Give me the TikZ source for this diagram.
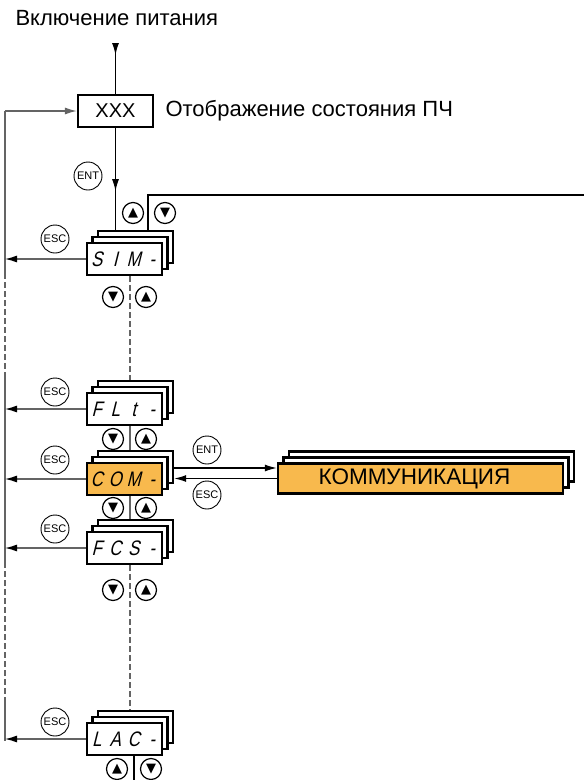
\documentclass[tikz,border=0pt]{standalone}
\usepackage{fontspec}
\setmainfont{Liberation Sans}
\newfontfamily\symfont{DejaVu Sans}
\newfontfamily\segfont{Liberation Sans}[FakeSlant=0.25, FakeStretch=0.8]
\usepackage{tikz}
\usetikzlibrary{arrows.meta, shadows, decorations.markings}
\definecolor{menuorange}{RGB}{248,185,77}
\definecolor{linegray}{RGB}{100,100,100}
% code on the 4-digit display
\newcommand{\segcode}[4]{{\segfont\fontsize{21}{21}\selectfont\makebox[18.5pt]{#1}\makebox[18.5pt]{#2}\makebox[18.5pt]{#3}\makebox[18.5pt]{#4}}}

\begin{document}
\begin{tikzpicture}[x=1pt, y=-1pt,
    every node/.style={font=\fontsize{22}{22}\selectfont},
    >={Latex[length=12pt,width=7pt]},
    stackbox/.style={draw, line width=2.4pt, fill=white, minimum width=75pt, minimum height=32pt, inner sep=0pt,
        general shadow={shadow xshift=11pt, shadow yshift=12pt, fill=white, draw=black},
        general shadow={shadow xshift=5.5pt, shadow yshift=6pt, fill=white, draw=black}},
    btn/.style={circle, draw, line width=0.9pt, minimum size=28pt, inner sep=0pt, font=\fontsize{11}{11}\selectfont},
    arrowbtn/.style={circle, draw, line width=1.2pt, minimum size=21pt, inner sep=0pt, font=\symfont\fontsize{13}{13}\selectfont},
    retline/.style={draw=linegray, line width=1.3pt},
    gapline/.style={draw=linegray, line width=1.3pt, dash pattern=on 6pt off 3pt}]
    \useasboundingbox (0,0) rectangle (584,780);

    % Power on and state display
    \node[anchor=west] (power) at (12,18) {Включение питания};
    \coordinate (pwr) at (115.5,43);
    \node[draw, line width=2.2pt, minimum width=75pt, minimum height=32pt, inner sep=0pt, font=\fontsize{20}{20}\selectfont] (xxx) at (115.5,111) {XXX};
    \node[anchor=west] (state) at (162,111) {Отображение состояния ПЧ};
    \draw[{Latex[reversed,length=12pt,width=7pt]}-, line width=1.2pt] (pwr) -- (xxx.north);

    % Menu stacks
    \node[stackbox] (sim) at (124.5,259) {\segcode{S}{I}{M}{-}};
    \node[stackbox] (flt) at (124.5,409) {\segcode{F}{L}{t}{-}};
    \node[stackbox, fill=menuorange] (com) at (124.5,479) {\segcode{C}{O}{M}{-}};
    \node[stackbox] (fcs) at (124.5,548) {\segcode{F}{C}{S}{-}};
    \node[stackbox] (lac) at (124.5,739) {\segcode{L}{A}{C}{-}};
    \node[stackbox, fill=menuorange, minimum width=285pt, minimum height=30pt] (komm) at (420.5,478.5)
        {\fontsize{22.5}{22.5}\selectfont КОММУНИКАЦИЯ\hspace*{12pt}};
    \coordinate (simtop) at ([yshift=12pt]sim.north);
    \coordinate (comR) at ([xshift=11pt]com.east);

    % ENT into the menu
    \node[btn] (entA) at (88,176) {ENT};
    \draw[line width=1.2pt, decoration={markings, mark=at position 0.62 with {\arrow{>}}}, postaction={decorate}]
        (xxx.south) -- (xxx.south |- simtop);

    % line to the right
    \coordinate (outR) at (584,195);
    \node[arrowbtn] (simup) at (133,213) {▲};
    \node[arrowbtn] (simdn) at (165,213) {▼};
    \draw[line width=1.2pt] ([xshift=23.5pt]simtop) |- (outR);

    % return line on the left
    \coordinate (rettop) at (5,111);
    \coordinate (retbot) at (5,741);
    \draw[retline, ->] (rettop) -- (xxx.west);
    \draw[retline] (rettop) -- ++(0,162);
    \draw[gapline] (5,273) -- ++(0,100);
    \draw[retline] (5,373) -- ++(0,189);
    \draw[gapline] (5,562) -- ++(0,141);
    \draw[retline] (5,703) -- (retbot);

    % ESC back to the state display
    \node[btn] (escA) at (55,239) {ESC};
    \node[btn] (escB) at (55,392) {ESC};
    \node[btn] (escC) at (55,460) {ESC};
    \node[btn] (escD) at (55,529) {ESC};
    \node[btn] (escE) at (55,722) {ESC};
    \draw[retline, -{Latex[length=12pt,width=7pt,color=black]}] (sim.west) -- (sim.west -| rettop);
    \draw[retline, -{Latex[length=12pt,width=7pt,color=black]}] (flt.west) -- (flt.west -| rettop);
    \draw[retline, -{Latex[length=12pt,width=7pt,color=black]}] (com.west) -- (com.west -| rettop);
    \draw[retline, -{Latex[length=12pt,width=7pt,color=black]}] (fcs.west) -- (fcs.west -| rettop);
    \draw[retline, -{Latex[length=12pt,width=7pt,color=black]}] (lac.west) -- (lac.west -| retbot);

    % up / down between the menus
    \node[arrowbtn] (dnA) at (113,297) {▼};
    \node[arrowbtn] (upA) at (146,297) {▲};
    \node[arrowbtn] (dnB) at (113,439) {▼};
    \node[arrowbtn] (upB) at (146,439) {▲};
    \node[arrowbtn] (dnC) at (113,508) {▼};
    \node[arrowbtn] (upC) at (146,508) {▲};
    \node[arrowbtn] (dnD) at (113,590) {▼};
    \node[arrowbtn] (upD) at (146,590) {▲};
    \node[arrowbtn] (upE) at (117,769) {▲};
    \node[arrowbtn] (dnE) at (151,769) {▼};

    \coordinate (flttop) at ([xshift=5.5pt,yshift=12pt]flt.north);
    \coordinate (comtop) at ([xshift=5.5pt,yshift=12pt]com.north);
    \coordinate (fcstop) at ([xshift=5.5pt,yshift=12pt]fcs.north);
    \coordinate (lactop) at ([xshift=5.5pt,yshift=12pt]lac.north);
    \draw[gapline] (sim.south -| flttop) -- (flttop);
    \draw[retline] (flt.south -| comtop) -- (comtop);
    \draw[retline] (com.south -| fcstop) -- (fcstop);
    \draw[gapline] (fcs.south -| lactop) -- (lactop);
    \coordinate (lacout) at (134,780);
    \draw[line width=1.2pt] (lac.south -| lacout) -- (lacout);

    % COM <-> communication menu
    \node[btn] (entB) at (207,450) {ENT};
    \node[btn] (escF) at (207,495) {ESC};
    \draw[line width=1.2pt, ->] ([yshift=11pt]comR) -- ([yshift=11pt]comR -| komm.west);
    \draw[line width=1.2pt, ->] (komm.west) -- (komm.west -| comR);
\end{tikzpicture}
\end{document}
